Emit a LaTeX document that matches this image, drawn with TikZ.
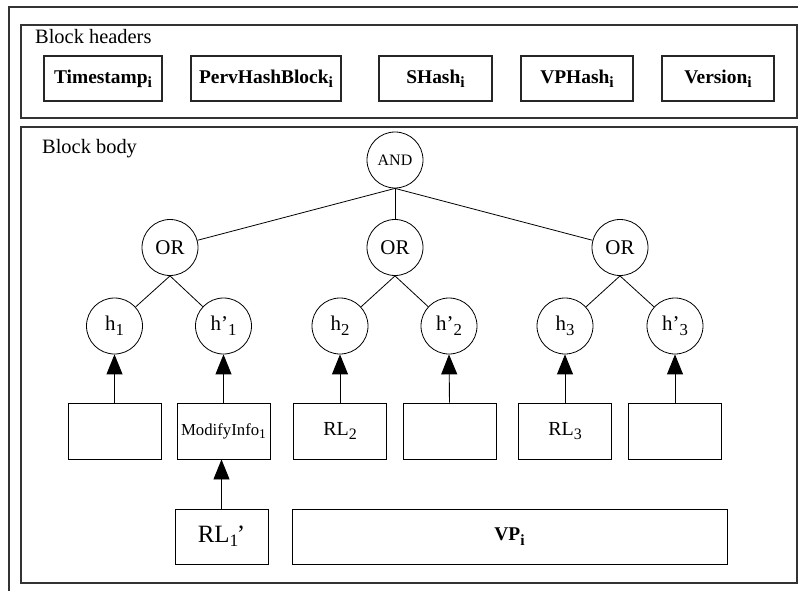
\documentclass[tikz,border=0pt]{standalone}
\usepackage{fontspec}
\setmainfont{Liberation Serif}
\usetikzlibrary{arrows.meta}
\newcommand\fsz[1]{\fontsize{#1}{#1}\selectfont}
% large, slightly lowered subscript
\newcommand\sbs[1]{\raisebox{-0.22em}{\scalebox{0.8}{#1}}}

\begin{document}
\begin{tikzpicture}[x=1bp,y=-1bp,
  frame/.style={draw=black!80, line width=1.2bp},
  hbox/.style={draw=black!85, line width=1.1bp, minimum height=45bp, inner sep=0pt, font=\fsz{19.5}\bfseries},
  gate/.style={circle, draw, line width=0.8bp, minimum size=56bp, inner sep=0pt, font=\fsz{21}},
  leaf/.style={draw, line width=0.9bp, minimum width=93bp, minimum height=56bp, inner sep=0pt, font=\fsz{20}},
  tie/.style={line width=0.8bp},
  feed/.style={line width=0.9bp, -{Triangle[length=20bp,width=16bp]}},
  title/.style={anchor=base west, inner sep=0pt, font=\fsz{20.5}},
]
\useasboundingbox (0,0) rectangle (798,591);

% outer frame (only top and left edges shown)
\draw[frame] (9,591) -- (9,7) -- (798,7);

% header section
\draw[frame] (21,25) rectangle (797,118);
\node[title] (hdrtitle) at (35,44) {Block headers};
\node[hbox, minimum width=118bp] (ts)  at (103,78.5)   {Timestamp\sbs{i}};
\node[hbox, minimum width=150bp] (phb) at (266,78.5)   {PervHashBlock\sbs{i}};
\node[hbox, minimum width=113bp] (sh)  at (435.5,78.5) {SHash\sbs{i}};
\node[hbox, minimum width=112bp] (vph) at (577,78.5)   {VPHash\sbs{i}};
\node[hbox, minimum width=112bp] (ver) at (718,78.5)   {Version\sbs{i}};

% body section
\draw[frame] (21,127) rectangle (797,583);
\node[title] (bodytitle) at (42,153.5) {Block body};

% AND / OR tree
\node[gate, font=\fsz{16}] (and) at (395,160) {AND};
\node[gate] (or1) at (170,247.5) {OR};
\node[gate] (or2) at (395,247.5) {OR};
\node[gate] (or3) at (620,247.5) {OR};

\node[gate] (h1)  at (114.5,326) {h\sbs{1}};
\node[gate] (hp1) at (223.5,326) {h’\sbs{1}};
\node[gate] (h2)  at (340,326)   {h\sbs{2}};
\node[gate] (hp2) at (449,326)   {h’\sbs{2}};
\node[gate] (h3)  at (565,326)   {h\sbs{3}};
\node[gate] (hp3) at (675,326)   {h’\sbs{3}};

\draw[tie] (and.south) -- (or1);
\draw[tie] (and.south) -- (or2.north);
\draw[tie] (and.south) -- (or3);
\draw[tie] (or1.south) -- (h1);
\draw[tie] (or1.south) -- (hp1);
\draw[tie] (or2.south) -- (h2);
\draw[tie] (or2.south) -- (hp2);
\draw[tie] (or3.south) -- (h3);
\draw[tie] (or3.south) -- (hp3);

% leaf boxes
\node[leaf] (l1)  at (114.5,431) {};
\node[leaf, font=\fsz{16.8}] (mod) at (223.5,431) {ModifyInfo\sbs{1}};
\node[leaf] (rl2) at (340,431)   {RL\sbs{2}};
\node[leaf] (l4)  at (449.5,431) {};
\node[leaf] (rl3) at (565,431)   {RL\sbs{3}};
\node[leaf] (l6)  at (675,431)   {};

\draw[feed] (l1.north)  -- (h1.south);
\draw[feed] (mod.north) -- (hp1.south);
\draw[feed] (rl2.north) -- (h2.south);
\draw[feed] (l4.north)  -- (hp2.south);
\draw[feed] (rl3.north) -- (h3.south);
\draw[feed] (l6.north)  -- (hp3.south);

% bottom row
\node[leaf, minimum height=55bp, font=\fsz{25}] (rl1) at (221.5,536.5) {RL\textsubscript{1}\kern-0.08em’};
\node[leaf, minimum height=55bp, minimum width=435bp, font=\fsz{19.5}\bfseries] (vp) at (509.5,536.5) {VP\sbs{i}};
\draw[feed] (rl1.north) -- (rl1.north |- mod.south);
\end{tikzpicture}
\end{document}
